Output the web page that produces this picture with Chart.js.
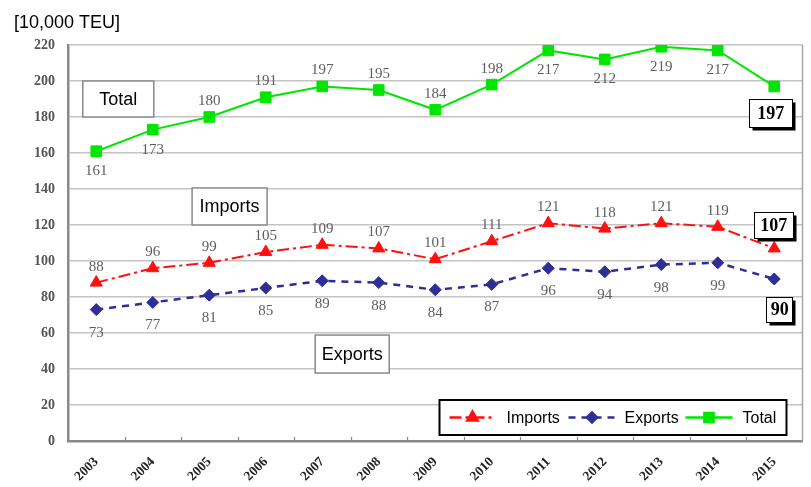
<!DOCTYPE html>
<html>
<head>
<meta charset="utf-8">
<script src="https://cdn.jsdelivr.net/npm/chart.js@4/dist/chart.umd.min.js"></script>
<style>
  html, body { margin: 0; padding: 0; background: #fff; }
  #wrap { width: 811px; height: 487px; position: relative; }
</style>
</head>
<body>
<div id="wrap"><canvas id="c" width="811" height="487"></canvas></div>
<script>
// Container throughput, in units of 10,000 TEU
const years = ['2003','2004','2005','2006','2007','2008','2009','2010','2011','2012','2013','2014','2015'];
const importsTEU = [88, 96, 99, 105, 109, 107, 101, 111, 121, 118, 121, 119, 107];
const exportsTEU = [73, 77, 81, 85, 89, 88, 84, 87, 96, 94, 98, 99, 90];
const totalTEU   = [161, 173, 180, 191, 197, 195, 184, 198, 217, 212, 219, 217, 197];

const yMin = 0, yMax = 220, yStep = 20;
const unitLabel = '[10,000 TEU]';

// Which side of each point its value label sits on (the last point gets a framed label)
const totalLabelSide   = ['below','below','above','above','above','above','above','above','below','below','below','below'];
const importsLabelSide = Array(12).fill('above');
const exportsLabelSide = Array(12).fill('below');

const COL_IMP = '#ff1010';
const COL_EXP = '#2e2e96';
const COL_TOT = '#00e600';

const SANS = '"Liberation Sans", Arial, sans-serif';
const SERIF = '"Liberation Serif", "Times New Roman", serif';

const labelPlugin = {
  id: 'chartDecor',
  beforeDraw(chart) {
    const ctx = chart.ctx;
    ctx.save();
    ctx.fillStyle = '#fff';
    ctx.fillRect(0, 0, chart.width, chart.height);
    ctx.fillStyle = '#000';
    ctx.font = '18px ' + SANS;
    ctx.textBaseline = 'alphabetic';
    ctx.textAlign = 'left';
    ctx.fillText(unitLabel, 14, 28);
    ctx.restore();
  },
  beforeDatasetsDraw(chart) {
    const { ctx, chartArea: a, scales: { x, y } } = chart;
    ctx.save();
    // right frame edge
    ctx.strokeStyle = '#a8a8a8';
    ctx.lineWidth = 1.5;
    ctx.beginPath();
    ctx.moveTo(a.right, a.top);
    ctx.lineTo(a.right, a.bottom);
    ctx.stroke();
    // category boundary tick marks on the x axis
    ctx.strokeStyle = '#888';
    ctx.lineWidth = 1.2;
    const half = (x.getPixelForValue(1) - x.getPixelForValue(0)) / 2;
    for (let i = 0; i < years.length - 1; i++) {
      const px = Math.round(x.getPixelForValue(i) + half) + 0.5;
      ctx.beginPath();
      ctx.moveTo(px, a.bottom - 4);
      ctx.lineTo(px, a.bottom + 1);
      ctx.stroke();
    }
    // series name boxes
    const nameBoxes = [
      { text: 'Total',   idx: 0.39, val: 190,  w: 71, h: 36 },
      { text: 'Imports', idx: 2.36, val: 130.3, w: 75, h: 37 },
      { text: 'Exports', idx: 4.53, val: 48.3, w: 74, h: 38 }
    ];
    nameBoxes.forEach(b => {
      const cx = x.getPixelForValue(b.idx);
      const cy = y.getPixelForValue(b.val);
      ctx.fillStyle = '#fff';
      ctx.fillRect(cx - b.w / 2, cy - b.h / 2, b.w, b.h);
      ctx.strokeStyle = '#8a8a8a';
      ctx.lineWidth = 1.5;
      ctx.strokeRect(cx - b.w / 2, cy - b.h / 2, b.w, b.h);
      ctx.fillStyle = '#000';
      ctx.font = '18px ' + SANS;
      ctx.textAlign = 'center';
      ctx.textBaseline = 'middle';
      ctx.fillText(b.text, cx, cy + 1);
    });
    ctx.restore();
  },
  afterDatasetsDraw(chart) {
    const { ctx, chartArea: a } = chart;
    const sides = [importsLabelSide, exportsLabelSide, totalLabelSide];
    const last = years.length - 1;
    ctx.save();
    ctx.font = '15px ' + SERIF;
    ctx.fillStyle = '#5e5e5e';
    ctx.textAlign = 'center';
    ctx.textBaseline = 'middle';
    chart.data.datasets.forEach((ds, di) => {
      const meta = chart.getDatasetMeta(di);
      meta.data.forEach((pt, i) => {
        if (i === last) return;
        const side = sides[di][i];
        const dy = side === 'above' ? -16 : (di === 1 ? 23 : 20);
        ctx.fillText(String(ds.data[i]), pt.x, pt.y + dy);
      });
    });
    // framed value labels for the final year
    const framed = [
      { di: 2, dx: -4, dy: 27, w: 43, h: 28 },
      { di: 0, dx: -1, dy: -23, w: 39, h: 26 },
      { di: 1, dx: 5, dy: 30, w: 26, h: 25 }
    ];
    framed.forEach(f => {
      const pt = chart.getDatasetMeta(f.di).data[last];
      const cx = pt.x + f.dx, cy = pt.y + f.dy;
      const l = Math.round(cx - f.w / 2) + 0.5, t = Math.round(cy - f.h / 2) + 0.5;
      ctx.fillStyle = '#000';
      ctx.fillRect(l + 3, t + 3, f.w, f.h);
      ctx.fillStyle = '#fff';
      ctx.fillRect(l, t, f.w, f.h);
      ctx.strokeStyle = '#000';
      ctx.lineWidth = 1;
      ctx.strokeRect(l, t, f.w, f.h);
      ctx.fillStyle = '#000';
      ctx.font = 'bold 18px ' + SERIF;
      ctx.fillText(String(chart.data.datasets[f.di].data[last]), cx + 0.5, cy + 1);
    });
    // legend box
    const lw = 347, lh = 35;
    const lx = a.right - 16 - lw, ly = a.bottom - 6 - lh;
    ctx.fillStyle = '#fff';
    ctx.fillRect(lx, ly, lw, lh);
    ctx.strokeStyle = '#000';
    ctx.lineWidth = 2;
    ctx.strokeRect(lx, ly, lw, lh);
    const items = [
      { di: 0, x0: 10, x1: 56, tx: 67 },
      { di: 1, x0: 129, x1: 176, tx: 185 },
      { di: 2, x0: 246, x1: 293, tx: 303 }
    ];
    const cyL = ly + lh / 2;
    items.forEach(it => {
      const ds = chart.data.datasets[it.di];
      ctx.strokeStyle = ds.borderColor;
      ctx.lineWidth = 2.5;
      ctx.setLineDash(ds.borderDash || []);
      ctx.beginPath();
      ctx.moveTo(lx + it.x0, cyL);
      ctx.lineTo(lx + it.x1, cyL);
      ctx.stroke();
      ctx.setLineDash([]);
      ctx.fillStyle = ds.pointBackgroundColor;
      ctx.strokeStyle = ds.pointBorderColor;
      Chart.helpers.drawPoint(ctx, {
        pointStyle: ds.pointStyle, radius: ds.pointRadius - 1, rotation: 0, borderWidth: 1
      }, lx + (it.x0 + it.x1) / 2, cyL);
      ctx.fillStyle = '#000';
      ctx.font = '16px ' + SANS;
      ctx.textAlign = 'left';
      ctx.textBaseline = 'middle';
      ctx.fillText(ds.label, lx + it.tx, cyL + 1);
    });
    ctx.restore();
  }
};

new Chart(document.getElementById('c'), {
  type: 'line',
  data: {
    labels: years,
    datasets: [
      {
        label: 'Imports', data: importsTEU,
        borderColor: COL_IMP, borderWidth: 2, borderDash: [12, 4, 3, 4],
        pointStyle: 'triangle', pointRadius: 7,
        pointBackgroundColor: COL_IMP, pointBorderColor: COL_IMP, pointBorderWidth: 1,
        tension: 0
      },
      {
        label: 'Exports', data: exportsTEU,
        borderColor: COL_EXP, borderWidth: 2.5, borderDash: [7, 6],
        pointStyle: 'rectRot', pointRadius: 6,
        pointBackgroundColor: COL_EXP, pointBorderColor: COL_EXP, pointBorderWidth: 1,
        tension: 0
      },
      {
        label: 'Total', data: totalTEU,
        borderColor: COL_TOT, borderWidth: 2,
        pointStyle: 'rect', pointRadius: 7.5,
        pointBackgroundColor: COL_TOT, pointBorderColor: COL_TOT, pointBorderWidth: 1,
        tension: 0
      }
    ]
  },
  options: {
    responsive: false,
    devicePixelRatio: 1,
    animation: false,
    events: [],
    layout: { padding: { top: 45, right: 5, left: 0, bottom: 0 } },
    plugins: { legend: { display: false }, tooltip: { enabled: false }, title: { display: false } },
    scales: {
      x: {
        type: 'category',
        offset: true,
        grid: { display: false, drawTicks: false },
        border: { display: true, color: '#8a8a8a', width: 2.5 },
        ticks: {
          autoSkip: false, minRotation: 45, maxRotation: 45, padding: 13,
          color: '#222', font: { family: SERIF, size: 13.5, weight: 'bold' }
        },
        afterFit(s) { s.height = 46; }
      },
      y: {
        min: yMin, max: yMax,
        grid: { color: '#c4c4c4', lineWidth: 1.5, drawTicks: false },
        border: { display: true, color: '#8a8a8a', width: 2.5 },
        ticks: {
          stepSize: yStep, padding: 13,
          color: '#555', font: { family: SERIF, size: 14, weight: 'bold' }
        },
        afterFit(s) { s.width = 68; }
      }
    }
  },
  plugins: [labelPlugin]
});
</script>
</body>
</html>
